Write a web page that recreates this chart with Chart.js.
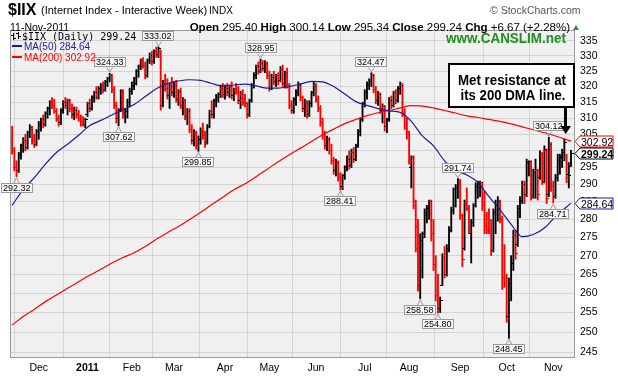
<!DOCTYPE html>
<html><head><meta charset="utf-8">
<script src="https://cdn.jsdelivr.net/npm/chart.js@4.4.0/dist/chart.umd.min.js"></script>
<style>html,body{margin:0;padding:0;background:#fff;}#wrap{width:618px;height:378px;position:relative;}</style>
</head><body><div id="wrap"><canvas id="c" width="618" height="378"></canvas></div>
<script>
// ---- data (trading-day index 0 = 12-Nov-2010 ... 252 = 11-Nov-2011) ----
const opens = [306,300,295,294,299,301.5,303,301,305.5,307,303,302,306,308,309.5,308,311.5,313,315,314,312,310,308.5,312.5,315,314,315.5,313,311,312.5,311,310,309,308,311,314.5,313,316.5,318,316.5,319.5,320.5,319,321.5,322.5,323.5,319,314,310,312.5,318.5,311.5,312,315,318.5,320.5,321,325,326.5,328.5,327,323.5,328.5,330,328,331.5,330.5,331.5,314,321,319.5,317,320,318,320.5,316,318.5,314,315.5,310.5,312,306.5,303,305.5,301.5,303.5,306,304.5,302.5,307.5,312,311,315.5,316.5,317.5,319.5,317.5,319.5,318,320,317,319,318,315.5,317.5,315,314.5,311,315.5,320.5,323.5,326.5,325,327.5,326,327.5,323.5,319.5,323,321.5,323.5,322,325.5,321,324.5,320.5,314,312.5,316,318,320.5,316.5,313,315,311,314.5,318,320.5,316,313,308.5,305,301.5,303.5,300,297,294,296.5,292,289.5,292.5,295,297.5,295.5,299.5,297.5,301.5,306,309.5,314.5,318,320.5,321.5,323.5,319,315.5,317.5,312.5,313.5,307.5,309.5,315.5,314,318,315.5,319.5,320.5,311.5,308,305.5,295,298,285,278,262,266,276,281,283,285,276,267.5,259.5,256,262,269.5,265,272,277,282.5,284,289,290.5,281,272,284.5,283,276,279,284,289.5,290,290.5,284,278,277,276,271.5,282,284,285,280,264,262.5,254,262.5,268,275.5,273,283,285.5,290,287,296.5,296.5,286.5,293.5,294,292,299,291,300,287,302,289.5,286.5,292,297,298,299.5,298,293,295.4];
const highs = [307.5,301,297,299.5,302,304,305,306,308,307.5,305,306.5,309,310,311,312,313.5,315.5,316.5,316,313,311,313,315.5,316.5,316,316,314.5,313.5,313.5,312.5,311,310.5,310,315,316,317,318.5,320,320,321,321.5,322,323,324.33,324,320,315,313,319,319,313,316,319.5,321.5,323,325.5,327,329,329.5,328,329,331,331.5,332,333,333.02,332,322,324,322.5,321,323,321.5,322,319,319.5,316.5,316,313,313,308,306.5,306,304.5,307,308.5,306,308,312.5,315.5,316,317.5,318,320.5,321,320.5,321,320.5,321.5,319.5,321,320,318.5,319,317.5,315,316,321,324.5,327,328,328.95,328.5,328.5,328,325,324,325,324,324.5,326.5,327,325,326,321,315.5,316.5,319,321.5,321,317,316,315.5,315.5,318.5,321.5,321,317,314,310,306,304.5,304,302,298,297.5,297,293.5,293,295.5,298.5,300,300.5,301,302,306.5,310,315,319,321.5,322.5,324.47,324,320,318.5,318,314.5,314,310,316.5,317,318.5,319,320,321.5,321,313,310,306,298.5,298.5,285.5,280,276,276.5,283,284,285.5,285.5,280,270,265,259,270.5,272.5,273,278,283.5,289,290,291.74,291.5,281.5,285.5,289,284,280,284.5,290.5,291,291,290.5,288,282,283,280,283,285.5,286.5,285.5,281,273,265,264,270,277,277,284,286.5,291,291,297.5,297,297,294.5,297.5,294.5,300,299.5,301.5,300.5,304.12,302.5,291,293,299,299,300.5,303.5,299,296.5,300.14];
const lows = [299,294,292.32,293.5,297.5,299.5,300,300.5,304,302,301,301.5,303.5,306,307,307.5,310,311,313,311.5,309,307.5,308,311.5,313,311,312,310,309.5,310,309,307.5,307.5,307,310.5,312,312.5,315,316,316,317.5,318,318.5,320,321.5,318,313,308.5,307.62,312,310,308.5,310,313.5,317.5,319,320.5,323,325.5,326,322.5,323,327.5,327,327.5,329.5,329.5,312.5,313.5,318.5,316,313,317,316.5,315,314,313,311,309.5,308,305.5,302,301.5,300.5,299.85,302,303.5,301,302,307,310,310,313.5,315,316.5,316.5,316,317,316.5,316,315.5,317.5,314.5,313,314,313.5,310,310.5,315,319.5,322.5,324,324.5,325,324.5,322.5,318.5,319,320.5,320,320.5,321.5,320,319.5,319.5,313,311.5,311.5,314,317,315.5,312,310.5,310,310.5,313.5,317,315,312,307.5,303.5,300.5,300,299,296,293,292.5,291,288.41,288.5,291.5,294,294.5,295,296.5,297,301,304.5,309,313.5,316,319,320,318,314.5,314,311.5,308.5,306,305.5,309,313,313.5,314.5,315,317.5,310.5,306.5,303.5,296,289,283,271,260.5,258.58,264,275,279,280,274,266,258,254.8,255,262,264,264.5,271,276.5,281.5,283.5,286,280,267,271.5,282.5,276,268,278,283.5,286,286.5,282.5,276,276,276,270,271,276,279.5,279,261,261.5,252.5,248.45,258,266,269,272.5,280.5,284.5,284.5,286.5,292.5,285.5,286,286,285.5,291.5,290,290.5,284.5,286.5,288,284.71,286,291,293,295,297,290.5,289,295.34];
const closes = [300,295,294,299,301.5,303,301,305.5,307,303,302,306,308,309.5,308,311.5,313,315,314,312,310,308.5,312.5,315,314,315.5,313,311,312.5,311,310,309,308,309.5,314.5,313,316.5,318,316.5,319.5,320.5,319,321.5,322.5,323.5,319,314,310,312.5,318.5,311.5,312,315,318.5,320.5,322.5,325,326.5,328.5,327,323.5,328.5,330,328,331.5,330.5,332.5,314,321,319.5,317,320,318,320.5,316,318.5,314,315.5,310.5,312,306.5,303,305.5,301.5,303.5,306,304.5,302.5,307.5,312,311,315.5,316.5,317.5,319.5,317.5,319.5,318,320,317,319,318,315.5,317.5,315,314.5,311,315.5,320.5,323.5,326.5,325,327.5,326,327.5,323.5,319.5,323,321.5,323.5,322,325.5,321,324.5,320.5,314,312.5,316,318,320.5,316.5,313,315,311,314.5,318,320.5,316,313,308.5,305,301.5,303.5,300,297,294,296.5,292,289.5,292.5,295,297.5,295.5,299.5,297.5,301.5,306,309.5,314.5,318,320.5,321.5,323.5,319,315.5,317.5,312.5,313.5,307.5,309.5,315.5,314,318,315.5,319.5,320.5,311.5,308,305,297,298,284,272,262,274,275,282,283,285,276,267.5,259.5,256,258,269.5,265,272,277,282.5,288.5,289,290.5,281,269,284.5,283,277,279,284,289.5,290,290.5,284,278,277,276.5,271.5,282,284,285,280,264,262.5,253.5,262.5,268,275.5,270.5,283,285.5,290,287,296.5,296.8,286.5,293.5,294,287,299,290.5,300.5,286,302,289.5,286.5,292,298,298.3,299.5,302.5,292,292.57,299.24];

const maIdx  = [0,5,10,15,20,25,30,35,40,45,50,55,60,65,70,75,80,85,90,95,100,105,110,115,120,125,130,135,140,145,150,155,160,165,170,175,180,185,190,195,200,205,210,215,220,225,230,235,240,245,250,252];
const ma50   = [284,288.5,292,296,299.5,302,304.7,307.7,309.3,311,312.7,314.3,316.8,319.3,321,321.8,322.2,322,321,320.2,320.5,320.8,320.2,319.5,319.5,320,320.8,321.7,321.5,320,317.6,315.2,314,313,312.3,311.8,309,304.5,301.5,297,294.2,292.8,290.6,286.5,282.7,278.6,275.2,275.8,277.6,280.8,283.5,284.64];
const ma200  = [251.8,254,255.8,257.8,259.5,261.3,263,264.7,266.3,268,269.5,270.8,272.5,274.5,276.3,278,280,282,284.2,286.3,288.5,290.2,292.3,294.5,296.7,298.8,300.8,302.8,304.9,306.6,308.3,309.6,310.8,311.7,312.4,313.2,313.9,313.8,313.2,312.4,311.6,310.7,310.2,309.6,309,308.2,307.3,306.4,305.5,304.5,303.4,302.92];

const monthIdx    = [12,34,54,73,96,116,137,159,179,202,223,244];
const monthLabels = ['Dec','2011','Feb','Mar','Apr','May','Jun','Jul','Aug','Sep','Oct','Nov'];
const yTicks = [245,250,255,260,265,270,275,280,285,290,295,300,305,310,315,320,325,330,335];

const tagIdx  = [2,44,48,66,84,112,148,162,184,192,201,224,242,244];
const tagVal  = [292.32,324.33,307.62,333.02,299.85,328.95,288.41,324.47,258.58,254.80,291.74,248.45,304.12,284.71];
const tagSide = ['b','a','b','a','b','a','b','a','b','b','a','b','a','b'];

// ---- rendering ----
const F = '"Liberation Sans", Arial, sans-serif';
const RED = '#ff0000', BLK = '#000000', BLUE = '#1c1c9c';
Chart.defaults.font.family = F;

const barColors = closes.map((c, i) => (i === 0 ? c < opens[0] : c < closes[i - 1]) ? RED : BLK);
function tickImg(color, left) {
  const c = document.createElement('canvas'); c.width = 5; c.height = 1;
  const g = c.getContext('2d'); g.fillStyle = color; g.fillRect(left ? 0 : 3, 0, 2, 1); return c;
}
const imgs = { rL: tickImg(RED, true), rR: tickImg(RED, false), bL: tickImg(BLK, true), bR: tickImg(BLK, false) };
const openStyles  = barColors.map(c => c === RED ? imgs.rL : imgs.bL);
const closeStyles = barColors.map(c => c === RED ? imgs.rR : imgs.bR);

function fitText(ctx, text, x, y, font, targetW, align) {
  ctx.font = font; const w = ctx.measureText(text).width; const sx = targetW / w;
  ctx.save(); ctx.translate(align === 'center' ? x - targetW / 2 : x, y); ctx.scale(sx, 1);
  ctx.textAlign = 'left'; ctx.fillText(text, 0, 0); ctx.restore();
}

const deco = {
  id: 'deco',
  beforeDraw(chart) {
    const { ctx, chartArea: a } = chart;
    ctx.save(); ctx.fillStyle = '#f0f0f0'; ctx.fillRect(a.left, a.top, a.right - a.left, a.bottom - a.top); ctx.restore();
  },
  afterDraw(chart) {
    const { ctx, chartArea: a, scales } = chart;
    const xs = scales.x, ys = scales.y;
    ctx.save();
    // plot border
    ctx.strokeStyle = '#9a9a9a'; ctx.lineWidth = 1;
    ctx.strokeRect(a.left + 0.5, a.top + 0.5, a.right - a.left - 1, a.bottom - a.top - 1);

    // value tags on highs / lows
    ctx.font = '9px ' + F; ctx.textBaseline = 'alphabetic';
    tagIdx.forEach((ix, k) => {
      const txt = tagVal[k].toFixed(2);
      const cx = xs.getPixelForValue(ix), py = ys.getPixelForValue(tagVal[k]);
      const w = Math.round(ctx.measureText(txt).width + 4), h = 10;
      let x0 = Math.round(cx - w / 2); if (x0 < 0) x0 = 0;
      let y0, cy1, cy2;
      if (tagSide[k] === 'a') { y0 = Math.round(py - 6 - h); cy1 = y0 + h; cy2 = py - 1; }
      else { y0 = Math.round(py + 6); cy1 = y0; cy2 = py + 1; }
      ctx.fillStyle = '#f7f7f7'; ctx.fillRect(x0, y0, w, h);
      ctx.strokeStyle = '#9a9a9a'; ctx.strokeRect(x0 + 0.5, y0 + 0.5, w - 1, h - 1);
      ctx.beginPath(); ctx.moveTo(cx - 3, cy1 + 0.5); ctx.lineTo(cx, cy2); ctx.lineTo(cx + 3, cy1 + 0.5); ctx.stroke();
      ctx.fillStyle = '#000'; ctx.fillText(txt, x0 + 2, y0 + h - 2);
    });

    // legend inside plot
    ctx.fillStyle = '#000';
    ctx.fillRect(13, 33, 1, 7); ctx.fillRect(11, 35, 2, 1); ctx.fillRect(14, 38, 2, 1);
    ctx.fillRect(18, 32, 1, 7); ctx.fillRect(16, 33, 2, 1); ctx.fillRect(19, 36, 2, 1);
    ctx.font = '10px "DejaVu Sans Mono", monospace'; ctx.fillText('$IIX (Daily) 299.24', 22, 40);
    ctx.fillStyle = BLUE; ctx.fillRect(12, 45, 10, 2);
    ctx.font = '10px ' + F; ctx.fillText('MA(50) 284.64', 24, 50);
    ctx.fillStyle = RED; ctx.fillRect(12, 56, 10, 2);
    ctx.fillText('MA(200) 302.92', 24, 61);

    // site tag
    ctx.fillStyle = '#1f8f1f';
    fitText(ctx, 'www.CANSLIM.net', 446, 43, 'bold 14px ' + F, 120);

    // annotation box + arrow
    ctx.fillStyle = '#fff'; ctx.fillRect(448, 63, 127, 45);
    ctx.strokeStyle = '#000'; ctx.lineWidth = 2; ctx.strokeRect(449, 64, 125, 43);
    ctx.fillStyle = '#000';
    fitText(ctx, 'Met resistance at', 512, 85, 'bold 15px ' + F, 108, 'center');
    fitText(ctx, 'its 200 DMA line.', 513, 100, 'bold 15px ' + F, 105, 'center');
    ctx.fillRect(564, 108, 3, 19);
    ctx.beginPath(); ctx.moveTo(560.5, 126); ctx.lineTo(571, 126); ctx.lineTo(565.7, 134); ctx.closePath(); ctx.fill();

    // right-hand value boxes
    function valBox(val, col, bold) {
      const yc = Math.round(ys.getPixelForValue(val)) + 0.5;
      ctx.beginPath(); ctx.moveTo(575, yc); ctx.lineTo(580, yc - 5.5); ctx.lineTo(613, yc - 5.5);
      ctx.lineTo(613, yc + 5.5); ctx.lineTo(580, yc + 5.5); ctx.closePath();
      ctx.fillStyle = '#fff'; ctx.fill(); ctx.lineWidth = 1; ctx.strokeStyle = col; ctx.stroke();
      ctx.fillStyle = '#000'; ctx.font = (bold ? 'bold ' : '') + '10.5px ' + F;
      ctx.fillText(val.toFixed(2), 581, yc + 4);
    }
    valBox(302.92, RED, false);
    valBox(299.24, '#000', true);
    valBox(284.64, BLUE, false);

    // header
    ctx.fillStyle = '#000';
    ctx.font = 'bold 16px ' + F; ctx.fillText('$IIX', 8, 15);
    ctx.font = '11px ' + F; ctx.fillText('(Internet Index - Interactive Week)', 41, 14);
    ctx.font = '10px ' + F; ctx.fillText('INDX', 209, 14);
    ctx.fillStyle = '#555'; ctx.font = '10.5px ' + F; ctx.fillText('\u00A9 StockCharts.com', 490, 14);
    ctx.fillStyle = '#000'; ctx.font = '10.5px ' + F; ctx.fillText('11-Nov-2011', 10, 31);
    const segs = [['Open', 1], [' 295.40 ', 0], ['High', 1], [' 300.14 ', 0], ['Low', 1], [' 295.34 ', 0], ['Close', 1], [' 299.24 ', 0], ['Chg', 1], [' +6.67 (+2.28%)', 0]];
    const fs = b => (b ? 'bold ' : '') + '11.5px ' + F;
    let tw = 0; segs.forEach(s => { ctx.font = fs(s[1]); tw += ctx.measureText(s[0]).width; });
    let xx = 570 - tw;
    segs.forEach(s => { ctx.font = fs(s[1]); ctx.fillText(s[0], xx, 31); xx += ctx.measureText(s[0]).width; });
    ctx.fillStyle = '#19a019'; ctx.beginPath(); ctx.moveTo(573, 30); ctx.lineTo(579, 30); ctx.lineTo(576, 25); ctx.closePath(); ctx.fill();
    ctx.restore();
  }
};

new Chart(document.getElementById('c'), {
  type: 'bar',
  data: {
    datasets: [
      { type: 'line', label: 'MA(50)', data: maIdx.map((ix, k) => ({ x: ix, y: ma50[k] })), borderColor: BLUE, borderWidth: 1.2, pointRadius: 0, cubicInterpolationMode: 'monotone', order: 0 },
      { type: 'line', label: 'MA(200)', data: maIdx.map((ix, k) => ({ x: ix, y: ma200[k] })), borderColor: RED, borderWidth: 1.2, pointRadius: 0, cubicInterpolationMode: 'monotone', order: 0 },
      { type: 'line', label: 'open', data: opens.map((v, i) => ({ x: i, y: v })), showLine: false, pointStyle: openStyles, pointRadius: 1, order: 2 },
      { type: 'line', label: 'close', data: closes.map((v, i) => ({ x: i, y: v })), showLine: false, pointStyle: closeStyles, pointRadius: 1, order: 2 },
      { type: 'bar', label: '$IIX', data: highs.map((h, i) => ({ x: i, y: [lows[i], h] })), backgroundColor: barColors, borderWidth: 0, barThickness: 1.2, order: 3 }
    ]
  },
  options: {
    responsive: false, animation: false, devicePixelRatio: 1, events: [],
    layout: { padding: { top: 30, left: 10, right: 0, bottom: 0 } },
    plugins: { legend: { display: false }, tooltip: { enabled: false } },
    scales: {
      x: {
        type: 'linear', min: -0.95, max: 253.8, bounds: 'data', offset: false,
        afterBuildTicks: s => { s.ticks = monthIdx.map(v => ({ value: v })); },
        afterFit: s => { s.height = 20; },
        grid: { color: '#d4d4d4', drawTicks: false },
        border: { display: false },
        ticks: { autoSkip: false, maxRotation: 0, padding: 4, color: '#000',
          font: c => ({ family: F, size: 10.5, weight: c.index === 1 ? 'bold' : 'normal' }),
          callback: (v, i) => monthLabels[i] }
      },
      y: {
        type: 'logarithmic', position: 'right', min: 243.6, max: 338.72, bounds: 'data',
        afterBuildTicks: s => { s.ticks = yTicks.map(v => ({ value: v })); },
        afterFit: s => { s.width = 43; },
        grid: { color: '#d4d4d4', drawTicks: false },
        border: { display: false },
        ticks: { autoSkip: false, padding: 5, color: '#000', font: { family: F, size: 10.5 }, callback: v => String(v) }
      }
    }
  },
  plugins: [deco]
});
</script></body></html>
